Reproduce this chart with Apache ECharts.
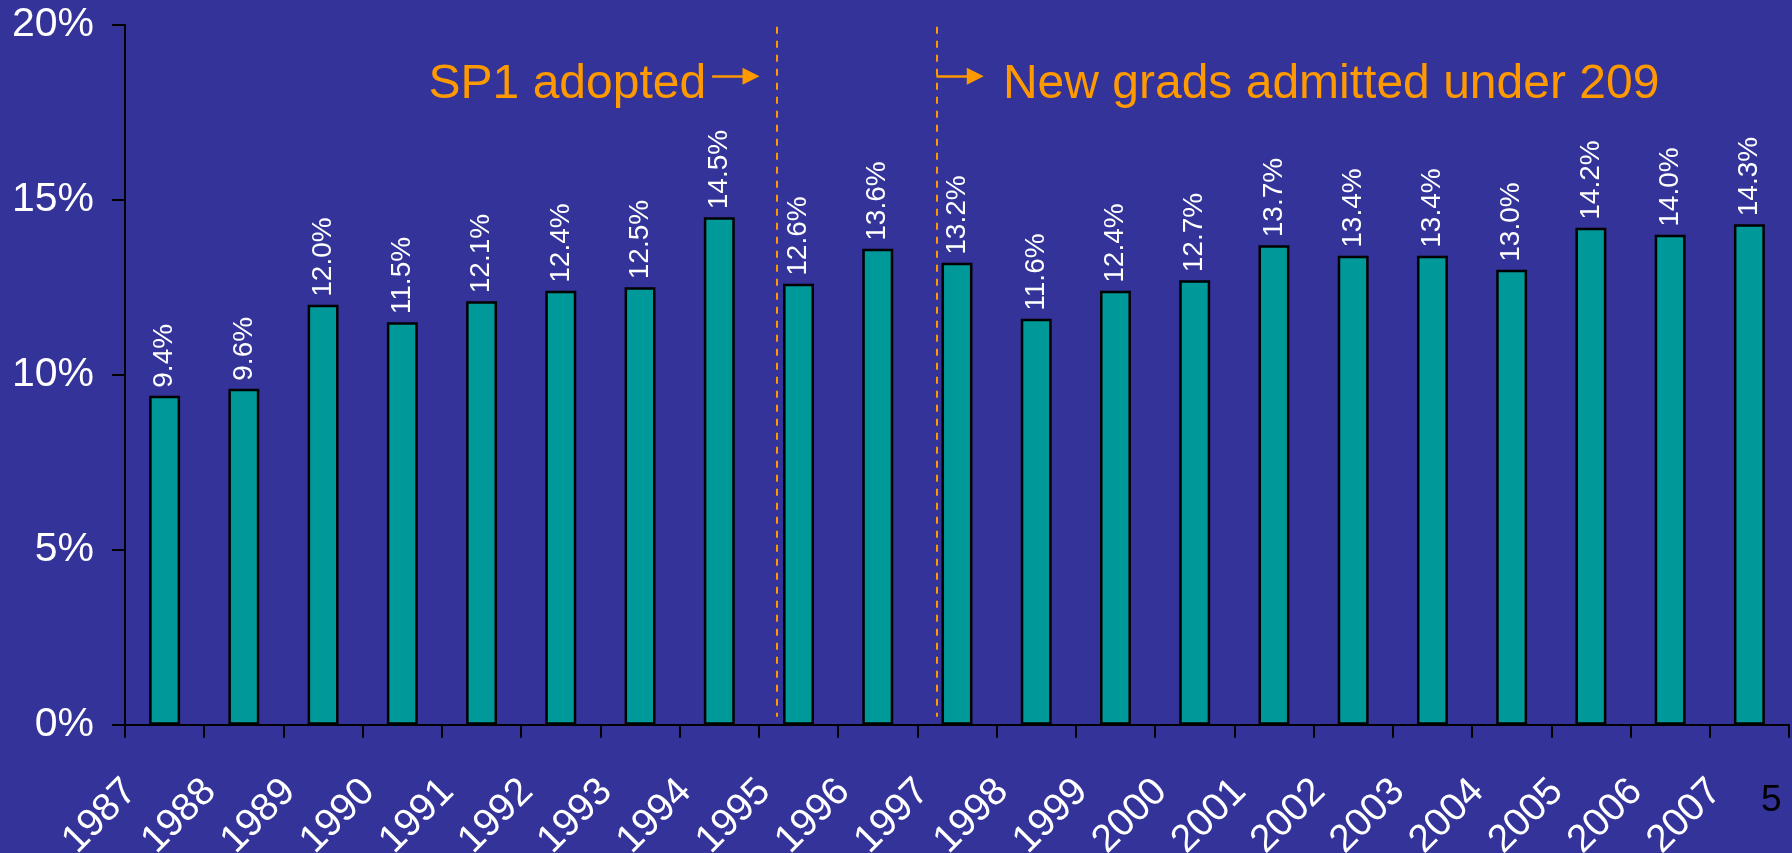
<!DOCTYPE html>
<html>
<head>
<meta charset="utf-8">
<script src="https://cdn.jsdelivr.net/npm/echarts@6/dist/echarts.min.js"></script>
<style>
  html, body { margin: 0; padding: 0; background: #333399; }
  #chart { width: 1792px; height: 853px; }
</style>
</head>
<body>
<div id="chart"></div>
<script>
// categories and values
var years = ['1987', '1988', '1989', '1990', '1991', '1992', '1993', '1994', '1995', '1996', '1997',
  '1998', '1999', '2000', '2001', '2002', '2003', '2004', '2005', '2006', '2007'];
var shares = [9.4, 9.6, 12.0, 11.5, 12.1, 12.4, 12.5, 14.5, 12.6, 13.6, 13.2,
  11.6, 12.4, 12.7, 13.7, 13.4, 13.4, 13.0, 14.2, 14.0, 14.3];
var yTicks = [0, 5, 10, 15, 20];

// annotation positions, in category units (0 = left edge of 1987) and percent
var policyLines = [8.22, 10.24];
var arrowY = 18.53;
var textY = 18.28;

var ORANGE = '#FF9900';
var FONT = '"Liberation Sans", Arial, sans-serif';

var chart = echarts.init(document.getElementById('chart'));

var option = {
  backgroundColor: '#333399',
  animation: false,
  grid: {
    left: 125,
    right: 3,
    top: 24.7,
    bottom: 128.3,
    outerBoundsMode: 'none'
  },
  xAxis: [
    {
      type: 'category',
      data: years,
      axisLine: { lineStyle: { color: '#000', width: 2 } },
      axisTick: { show: true, length: 13, lineStyle: { color: '#000', width: 2 } },
      axisLabel: {
        interval: 0,
        rotate: 45,
        margin: 27,
        padding: [0, 48, 0, 0],
        color: '#fff',
        fontSize: 39,
        fontFamily: FONT
      },
      splitLine: { show: false }
    },
    {
      type: 'value',
      min: 0,
      max: years.length,
      show: false
    }
  ],
  yAxis: {
    type: 'value',
    min: yTicks[0],
    max: yTicks[yTicks.length - 1],
    interval: 5,
    axisLine: { show: true, lineStyle: { color: '#000', width: 2 } },
    axisTick: { show: true, length: 13, lineStyle: { color: '#000', width: 2 } },
    axisLabel: {
      margin: 31,
      color: '#fff',
      fontSize: 41,
      fontFamily: FONT,
      formatter: '{value}%'
    },
    splitLine: { show: false }
  },
  series: [
    {
      type: 'bar',
      data: shares,
      barWidth: '39%',
      itemStyle: {
        color: '#009999',
        borderColor: '#000',
        borderWidth: 2.5
      },
      label: {
        show: true,
        position: 'top',
        rotate: 90,
        align: 'left',
        verticalAlign: 'middle',
        distance: 8,
        color: '#fff',
        fontSize: 28,
        fontFamily: FONT,
        formatter: function (p) {
          return p.value.toFixed(1) + '%';
        }
      }
    },
    {
      // carrier for the annotations, on the hidden value x axis
      type: 'line',
      xAxisIndex: 1,
      data: [],
      silent: true,
      markLine: {
        silent: true,
        label: { show: false },
        data: [
          [
            { coord: [policyLines[0], 19.94], symbol: 'none' },
            { coord: [policyLines[0], 0.23], symbol: 'none' }
          ],
          [
            { coord: [policyLines[1], 19.94], symbol: 'none' },
            { coord: [policyLines[1], 0.23], symbol: 'none' }
          ],
          [
            { coord: [7.41, arrowY], symbol: 'none' },
            { coord: [7.9, arrowY], symbol: 'triangle', symbolSize: [17, 17] }
          ],
          [
            { coord: [10.24, arrowY], symbol: 'none' },
            { coord: [10.73, arrowY], symbol: 'triangle', symbolSize: [17, 17] }
          ]
        ].map(function (pair, i) {
          pair[0].lineStyle = i < 2
            ? { color: ORANGE, width: 2, type: [7, 7] }
            : { color: ORANGE, width: 2.5, type: 'solid' };
          pair[1].itemStyle = { color: ORANGE };
          return pair;
        })
      },
      markPoint: {
        silent: true,
        symbol: 'circle',
        symbolSize: 0,
        data: [
          {
            coord: [7.41, textY],
            label: { position: 'left', distance: 6, formatter: 'SP1 adopted' }
          },
          {
            coord: [10.84, textY],
            label: { position: 'right', distance: 19, formatter: 'New grads admitted under 209' }
          }
        ],
        label: {
          show: true,
          color: ORANGE,
          fontSize: 48,
          fontFamily: FONT
        }
      }
    }
  ],
  graphic: [
    {
      type: 'text',
      left: 1761,
      top: 782,
      style: {
        text: '5',
        fill: '#000',
        fontSize: 37,
        fontFamily: FONT
      }
    }
  ]
};

chart.setOption(option);
</script>
</body>
</html>
